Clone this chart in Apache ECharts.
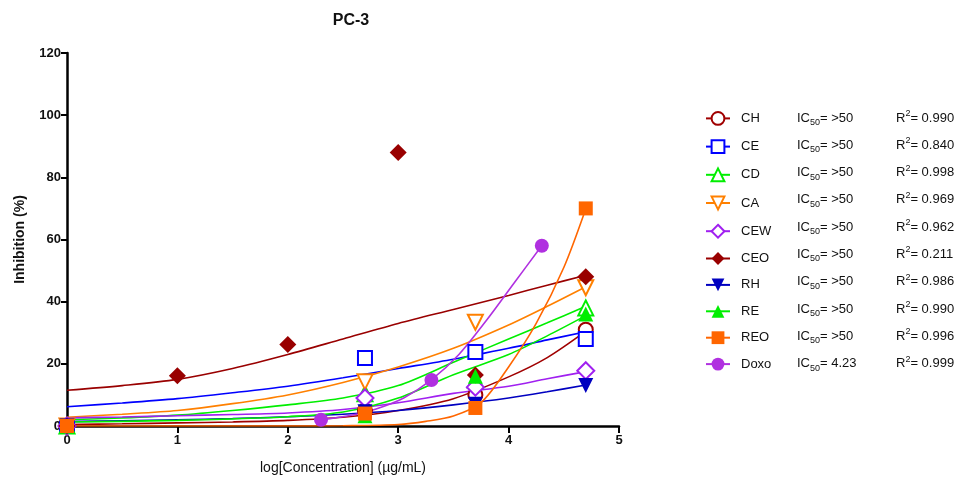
<!DOCTYPE html>
<html>
<head>
<meta charset="utf-8">
<script src="https://cdn.jsdelivr.net/npm/echarts@6/dist/echarts.min.js"></script>
<style>html,body{margin:0;background:#fff}</style>
</head>
<body>
<div id="myChart" style="width:964px;height:480px"></div>
<script>
// compound names, legend texts
var names = ['CH', 'CE', 'CD', 'CA', 'CEW', 'CEO', 'RH', 'RE', 'REO', 'Doxo']
var ic50Labels = ['>50', '>50', '>50', '>50', '>50', '>50', '>50', '>50', '>50', '4.23']
var r2Labels = ['0.990', '0.840', '0.998', '0.969', '0.962', '0.211', '0.986', '0.990', '0.996', '0.999']

// measured points (log concentration)
var ptX = [0, 2.699, 3.699, 4.699]
var chPts = [0, 5, 10, 31]
var cePts = [0, 21.9, 23.8, 28]
var cdPts = [0, 10.4, 14.8, 38]
var caPts = [0, 14.2, 33.4, 44.5]
var cewPts = [0, 9, 12.5, 17.8]
var rhPts = [0, 4.6, 7, 13]
var rePts = [0, 3.3, 16, 36]
var reoPts = [0, 4, 5.8, 70]
var ceoX = [0, 1, 2, 3, 3.699, 4.699]
var ceoPts = [0, 16.2, 26.2, 88, 16.4, 48]
var doxoX = [2.301, 3.301, 4.301]
var doxoPts = [2, 14.8, 58]

// fitted curves
var curveX = [0, 0.5, 1, 1.5, 2, 2.5, 3, 3.5, 4, 4.35, 4.7]
var chFit = [0.5, 0.7, 1, 1.3, 1.8, 2.8, 5, 8.8, 15.8, 22, 30.5]
var ceFit = [6.2, 7.4, 8.8, 10.7, 12.8, 15.5, 18.5, 21.5, 25, 27.7, 30.3]
var cdFit = [2, 2.6, 3.5, 5, 6.8, 9, 13, 20.5, 28, 33.2, 38.5]
var caFit = [2.8, 3.8, 5, 7.2, 10, 14, 19, 25, 32.5, 38.5, 44.8]
var cewFit = [2.6, 2.9, 3.3, 3.7, 4.2, 5.3, 7.5, 10.5, 12.8, 15.2, 17.5]
var ceoFit = [11.5, 13, 15, 18.5, 23, 28, 33, 37.5, 42, 45.3, 48.5]
var rhFit = [1.4, 1.7, 2, 2.4, 3, 3.8, 5, 6.8, 9, 11, 13.2]
var reFit = [1.3, 1.5, 1.8, 2.3, 3, 4.5, 9, 16.5, 23, 29, 35.5]
var reoFitX = [0, 1, 2, 2.5, 3, 3.25, 3.5, 3.75, 4, 4.25, 4.5, 4.7]
var reoFit = [0, 0, 0, 0.1, 0.5, 1.5, 3.2, 7.5, 19, 33, 51, 70]
var doxoFitX = [2.3, 2.55, 2.8, 3.05, 3.3, 3.55, 3.8, 4.05, 4.3]
var doxoFit = [2, 3.3, 5.5, 9, 14.8, 23, 34, 46, 58]

var colors = ['#a00000', '#0000ff', '#00ee00', '#ff8000', '#a020f0', '#990000', '#0000c0', '#00ee00', '#ff6600', '#b030e0']
var symbols = ['emptyCircle', 'emptyRect', 'emptyTriangle', 'emptyTriangle', 'emptyDiamond', 'diamond', 'triangle', 'triangle', 'rect', 'circle']
var rotates = [0, 0, 0, 180, 0, 0, 180, 0, 0, 0]
var sizes = [14, 14, 15, 15, 17, 17, 15, 15, 14, 14]

var pts = [
  [ptX, chPts], [ptX, cePts], [ptX, cdPts], [ptX, caPts], [ptX, cewPts],
  [ceoX, ceoPts], [ptX, rhPts], [ptX, rePts], [ptX, reoPts], [doxoX, doxoPts]
]
var fits = [
  [curveX, chFit], [curveX, ceFit], [curveX, cdFit], [curveX, caFit], [curveX, cewFit],
  [curveX, ceoFit], [curveX, rhFit], [curveX, reFit], [reoFitX, reoFit], [doxoFitX, doxoFit]
]

function pairs (xs, ys) {
  return xs.map(function (x, i) { return [x, ys[i]] })
}

var series = []
names.forEach(function (name, i) {
  var empty = symbols[i].indexOf('empty') === 0
  series.push({
    name: name,
    type: 'line',
    data: pairs(fits[i][0], fits[i][1]),
    smooth: 0.3,
    showSymbol: false,
    symbol: symbols[i],
    symbolSize: 12,
    symbolRotate: rotates[i],
    itemStyle: {color: colors[i], borderColor: colors[i], borderWidth: empty ? 2 : 0},
    lineStyle: {color: colors[i], width: 1.6},
    z: 2,
    silent: true
  })
})
names.forEach(function (name, i) {
  var empty = symbols[i].indexOf('empty') === 0
  series.push({
    name: name + ' pts',
    type: 'scatter',
    data: pairs(pts[i][0], pts[i][1]),
    symbol: symbols[i],
    symbolSize: sizes[i],
    symbolRotate: rotates[i],
    itemStyle: {color: colors[i], borderColor: colors[i], borderWidth: empty ? 2 : 0, opacity: 1},
    z: 3,
    silent: true
  })
})

var rowTop = 118
var rowStep = 27.3
var graphics = []
names.forEach(function (name, i) {
  graphics.push({
    type: 'text', x: 797, y: rowTop + i * rowStep,
    style: {
      text: '{a|IC}{b|50}{a|= ' + ic50Labels[i] + '}',
      verticalAlign: 'middle',
      rich: {
        a: {fontSize: 13, fontFamily: 'Liberation Sans', fill: '#111', lineHeight: 18, verticalAlign: 'middle'},
        b: {fontSize: 9, fontFamily: 'Liberation Sans', fill: '#111', lineHeight: 18, verticalAlign: 'bottom', padding: [6, 0, 0, 0]}
      }
    }
  })
  graphics.push({
    type: 'text', x: 896, y: rowTop + i * rowStep,
    style: {
      text: '{a|R}{b|2}{a|= ' + r2Labels[i] + '}',
      verticalAlign: 'middle',
      rich: {
        a: {fontSize: 13, fontFamily: 'Liberation Sans', fill: '#111', lineHeight: 18, verticalAlign: 'middle'},
        b: {fontSize: 9, fontFamily: 'Liberation Sans', fill: '#111', lineHeight: 18, verticalAlign: 'top', padding: [0, 0, 6, 0]}
      }
    }
  })
})

var options = {
  animation: false,
  backgroundColor: '#fff',
  title: {
    text: 'PC-3',
    left: 346,
    textAlign: 'center',
    top: 8,
    textStyle: {fontFamily: 'Liberation Sans', fontWeight: 'bold', fontSize: 16, color: '#111'}
  },
  grid: {left: 67, right: 345, top: 53, bottom: 54},
  legend: {
    data: names,
    orient: 'vertical',
    left: 705,
    top: rowTop - 7,
    padding: 0,
    itemWidth: 24,
    itemHeight: 16,
    itemGap: 13.4,
    selectedMode: false,
    textStyle: {fontFamily: 'Liberation Sans', fontSize: 13, color: '#111', padding: [0, 0, 0, 6]}
  },
  xAxis: {
    type: 'value',
    min: 0, max: 5, interval: 1,
    name: 'log[Concentration] (µg/mL)',
    nameLocation: 'middle',
    nameGap: 35,
    nameTextStyle: {fontFamily: 'Liberation Sans', fontSize: 14, color: '#111'},
    axisLine: {show: true, lineStyle: {color: '#000', width: 2.5}},
    axisTick: {show: true, length: 7, lineStyle: {color: '#000', width: 2}},
    axisLabel: {fontFamily: 'Liberation Sans', fontWeight: 'bold', fontSize: 13, color: '#111', margin: 8},
    splitLine: {show: false}
  },
  yAxis: {
    type: 'value',
    min: 0, max: 120, interval: 20,
    name: 'Inhibition (%)',
    nameLocation: 'middle',
    nameGap: 40,
    nameTextStyle: {fontFamily: 'Liberation Sans', fontWeight: 'bold', fontSize: 14, color: '#111'},
    axisLine: {show: true, lineStyle: {color: '#000', width: 2.5}},
    axisTick: {show: true, length: 6, lineStyle: {color: '#000', width: 2}},
    axisLabel: {fontFamily: 'Liberation Sans', fontWeight: 'bold', fontSize: 13, color: '#111', margin: 6},
    splitLine: {show: false}
  },
  graphic: graphics,
  series: series
}

var myChart = echarts.init(document.getElementById('myChart'))
myChart.setOption(options)
</script>
</body>
</html>
